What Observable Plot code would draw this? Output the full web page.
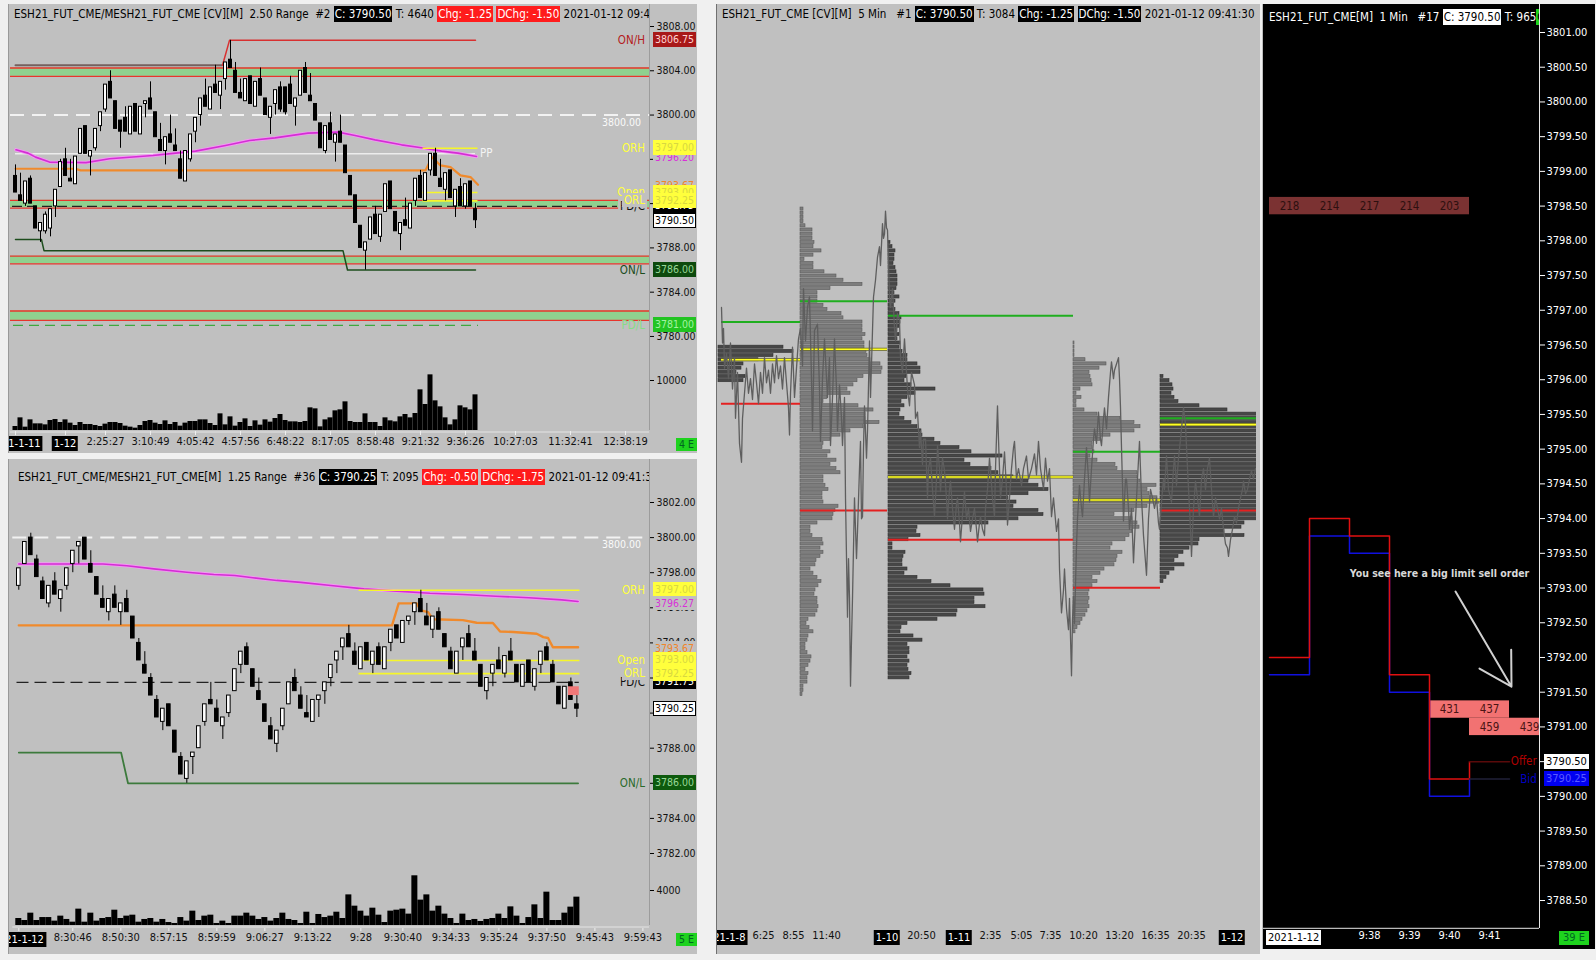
<!DOCTYPE html>
<html><head><meta charset="utf-8">
<script src="https://cdn.jsdelivr.net/npm/d3@7"></script>
<script src="https://cdn.jsdelivr.net/npm/@observablehq/plot@0.6"></script>
<style>
html,body{margin:0;padding:0;background:#f0f0f0;}
#page{position:relative;width:1596px;height:960px;overflow:hidden;background:#f0f0f0;}
.pnl{position:absolute;overflow:hidden;}
</style></head><body><div id="page"></div>
<script>
// ================= DATA =================
// ---- Panel A : ESH21/MESH21 2.50 Range ----
const aOpen  = [3794.5,3792.75,3792,3794.25,3791.75,3789.5,3789.5,3789.75,3791.75,3793.5,3796,3794.25,3793.75,3796.5,3799,3796.25,3797,3799,3800.5,3803,3801.25,3799.5,3799.75,3798.25,3801,3798.25,3801,3801.5,3800.25,3797.75,3796.75,3798.25,3797.25,3796,3794,3796,3798.5,3800,3801.75,3800.5,3802.75,3801.75,3803.25,3805,3804,3802,3801.25,3803.5,3800.75,3803.25,3801.5,3799.75,3801,3802.5,3802.5,3802.75,3800.75,3801.75,3804.25,3801.75,3801,3799.25,3796.75,3799.25,3797.5,3798.5,3797.25,3794.5,3792.75,3790,3787.75,3788.75,3791,3789,3791.25,3794,3791.25,3789.25,3790.5,3789.75,3792.25,3794.5,3792.25,3795,3796.5,3794.25,3793.25,3795,3791.75,3793.5,3791.75,3794,3791.5];
const aHigh  = [3795.5,3794.75,3794,3794.5,3791.75,3790.25,3791.25,3791.5,3793.25,3796,3797,3796,3796.25,3798.75,3799,3796.75,3798.75,3800.25,3802.75,3804,3801.25,3799.5,3800.75,3800.75,3801,3800.75,3801.25,3803,3800.25,3799.25,3798,3800,3798.75,3796.75,3796.75,3798.25,3799.75,3801.5,3803.25,3802.5,3804.5,3803,3804.75,3806.75,3804.75,3803.25,3803.25,3803.5,3803,3804.25,3801.5,3800.75,3802.25,3803,3802.5,3803.5,3801.5,3804,3804.75,3803.75,3801,3799.25,3799,3800.25,3798.25,3800,3797.25,3794.5,3792.75,3790,3788.5,3790.75,3791.75,3791,3793.75,3794,3791.25,3790.25,3792.5,3792,3794.25,3795,3794.75,3796.5,3797,3796,3794.75,3795,3793.25,3794.25,3793.75,3794,3792];
const aLow   = [3793,3792.25,3791.75,3792,3789.75,3788.5,3789.25,3789,3790.75,3793.5,3794.5,3794,3793.75,3796.5,3796.5,3794.5,3796.75,3798.5,3800.25,3801.5,3798.75,3797,3798.5,3798.25,3798.5,3798.25,3799.75,3800.5,3798,3796.75,3795.5,3797.5,3796.75,3794.25,3794,3795.75,3797.5,3799,3800.75,3800.5,3802,3800.5,3802.25,3804.25,3802,3801.5,3801.25,3801,3800.75,3801.75,3800,3798.25,3800,3800.25,3800,3801,3799,3801.75,3802,3801.25,3799.5,3797,3796.5,3797.75,3795.75,3797.5,3794.75,3792.75,3790.25,3788,3786,3788.75,3789.25,3788.5,3791.25,3791.5,3789.5,3787.75,3790,3789.75,3791.75,3792.5,3792.25,3794.5,3794.5,3793.5,3792.25,3792.5,3790.75,3791.75,3791.5,3791.75,3789.75];
const aClose = [3793,3792.25,3794,3792,3789.75,3790.25,3791,3791.5,3793.25,3795.75,3794.5,3794,3796.25,3798.75,3796.5,3796.75,3798.75,3800.25,3802.75,3801.5,3798.75,3798.5,3798.5,3800.75,3798.5,3800.75,3801.25,3800.5,3798,3796.75,3798,3797.5,3796.75,3794.25,3796.75,3798.25,3799.75,3801.5,3800.75,3802.5,3802,3803,3804.75,3804.25,3802,3801.5,3803.25,3801,3803,3801.75,3800,3800.75,3802.25,3800.5,3800.25,3801,3801.5,3804,3802,3801.25,3799.5,3797,3799,3797.75,3798.25,3797.5,3794.75,3792.75,3790.25,3788,3788.5,3790.75,3789.25,3791,3793.75,3791.5,3789.5,3790.25,3790,3792,3794.25,3792.5,3794.75,3796.5,3794.5,3793.5,3794.75,3792.5,3793.25,3791.75,3793.75,3791.75,3790.5];
const aVol   = [800,2530,670,2130,1330,1330,1130,2000,2200,1600,2130,1470,1000,1600,1200,1200,1000,800,1270,1600,1600,1400,870,670,470,1000,1800,2000,1470,1200,1930,1200,1600,870,1470,1800,1800,2130,2130,1400,1000,3330,1130,2730,870,1600,2330,800,1930,1070,2130,1670,2400,3200,2000,1730,1730,1600,1800,4530,4330,730,2130,2530,3930,4130,5730,1800,1600,1600,3330,1600,1600,800,2530,1930,1730,2730,3200,2530,3400,8130,5200,11130,5930,4730,2530,1130,2130,4930,4530,4130,7130];
const aVwapBar = [1.1,3.5,5,7.8,15.1,19.8,28.5,33,37,43,47.8,52.9,59.5,65.5,68.9,72.9,78.2,82.2,86.2,89.5,93.2];
const aVwapVal = [3796.86,3796.56,3796.2,3795.75,3795.7,3796.05,3796.35,3796.56,3796.74,3797.25,3797.7,3797.94,3798.37,3798.46,3798.16,3797.76,3797.31,3797.04,3796.74,3796.56,3796.26];
const aOrgBar = [1,13,14,83,84.3,86,88,90,92,93.5];
const aOrgVal = [3795.15,3795.15,3795,3795,3796.2,3795.45,3795.3,3794.55,3794.4,3793.7];
const aOnHBar = [1,42.4,43.8,93];
const aOnHVal = [3804.5,3804.5,3806.75,3806.75];
const aOnLBar = [1,6.2,6.7,66.5,67.4,93];
const aOnLVal = [3788.75,3788.75,3787.75,3787.75,3786,3786];
const aZoneLo = [3803.5,3791.6,3786.55,3781.45];
const aZoneHi = [3804.25,3792.3,3787.25,3782.3];
const aOR = [3797,3793,3792.25];       // ORH, Open, ORL
const aPDC = 3791.75, aPDL = 3781, aPP = 3796.5, aRound = 3800;
const aPriceTicks = [3808,3804,3800,3796,3792,3788,3784,3780];
const aTickBars = [1,11,19,28,37,46,55,64,73,82,91,101,112,123];
const aTickLabels = ["2021-1-11","1-12","2:25:27","3:10:49","4:05:42","4:57:56","6:48:22","8:17:05","8:58:48","9:21:32","9:36:26","10:27:03","11:32:41","12:38:19"];

// ---- Panel B : ESH21/MESH21 1.25 Range ----
const bOpen  = [3797.25,3798.5,3800,3798.75,3797.5,3796.25,3797.5,3796.5,3797.25,3798.5,3799.5,3800,3798.5,3797.75,3796.5,3795.75,3796.75,3795.75,3796.5,3795.5,3794,3792.75,3792,3790.75,3789.5,3790.5,3789,3787.5,3786.25,3787.5,3788,3789.5,3790.75,3790.25,3789.25,3790,3791.25,3792.75,3793.75,3792.5,3791.25,3790.5,3789.25,3788.25,3789.25,3790.5,3792,3791,3790,3789.5,3790.75,3791.25,3792,3793,3793.75,3794.5,3793.5,3792.5,3794,3792.75,3793.75,3792.5,3794,3795,3794,3795.25,3795.75,3796.5,3795.5,3794.75,3795.75,3794.5,3793.5,3792.25,3793.75,3794.5,3793.5,3792.75,3791.25,3792.25,3793,3792.25,3793.5,3792.75,3791.5,3793,3791.5,3792.75,3793.75,3792.75,3791.5,3790.25,3791.75,3790.5];
const bHigh  = [3798.25,3799.75,3800.25,3799,3797.75,3797.25,3798,3797,3798.25,3799.25,3799.75,3800,3799.25,3797.75,3797.25,3796.5,3797.25,3796.25,3797,3795.5,3794.25,3793.5,3792.25,3791,3790.25,3790.5,3789,3787.75,3787.25,3787.75,3789.25,3790.5,3791.75,3790.75,3789.75,3791,3792.5,3793.5,3794,3792.5,3792,3790.5,3789.75,3789,3790.25,3791.75,3792.5,3791.5,3791,3790.75,3791,3791.75,3792.75,3793.5,3794.25,3795,3794,3793.75,3794,3793.5,3794,3793.75,3794.75,3795,3795.25,3795.5,3796.25,3797,3796.25,3795.5,3796,3794.5,3793.75,3793.5,3794.25,3795,3794.25,3792.75,3792,3792.75,3793.75,3793.25,3794.25,3792.75,3792.75,3793,3792.5,3793.5,3794,3793,3791.5,3791.5,3792,3791];
const bLow   = [3797,3798.5,3799,3797.75,3796.5,3796,3796.75,3795.75,3797,3798,3798.5,3798.75,3798,3796.75,3796,3795.25,3796,3795,3795.75,3794.25,3793,3792.25,3791,3789.75,3789,3789.25,3787.75,3786.5,3786,3786.5,3788,3789.25,3790.5,3789.5,3788.5,3789.75,3791.25,3792.25,3792.75,3791.5,3790.75,3789.5,3788.5,3787.75,3789,3790.5,3791.25,3790.25,3789.75,3789.5,3789.75,3790.5,3791.5,3792.25,3793,3793.75,3792.75,3792.5,3793,3792.25,3792.75,3792.5,3793.5,3794.25,3794,3795,3795,3795.75,3795,3794.25,3794.75,3793.75,3792.5,3792.25,3793,3793.75,3793,3791.5,3790.75,3791.5,3792.5,3792,3793,3791.75,3791.5,3791.75,3791.25,3792.25,3793,3791.75,3790.5,3790.25,3790.75,3789.75];
const bClose = [3798.25,3799.75,3799,3797.75,3796.5,3797.25,3796.75,3797,3798.25,3799.25,3799.75,3798.75,3798,3796.75,3796,3796.5,3796,3796.25,3795.75,3794.25,3793,3792.25,3791,3789.75,3790.25,3789.25,3787.75,3786.5,3787.25,3787.75,3789.25,3790.5,3790.5,3789.5,3789.75,3791,3792.5,3793.5,3792.75,3791.5,3790.75,3789.5,3788.5,3789,3790.25,3791.75,3791.25,3790.25,3789.75,3790.75,3791,3791.75,3792.75,3793.5,3794.25,3793.75,3792.75,3793.75,3793,3793.5,3792.75,3793.75,3794.75,3794.25,3795.25,3795.5,3796.25,3795.75,3795,3795.5,3794.75,3793.75,3792.5,3793.5,3794.25,3793.75,3793,3791.5,3792,3792.75,3792.5,3793.25,3793,3791.75,3792.75,3791.75,3792.5,3793.5,3793,3791.75,3790.5,3791.5,3790.75,3790.25];
const bVol   = [800,570,1410,570,910,910,500,1070,690,380,1870,380,1410,500,800,910,1750,800,1070,1180,380,690,800,380,690,340,230,910,500,1640,570,1070,1180,230,500,230,1070,1070,1410,1070,690,910,500,800,1410,690,570,230,1520,230,1260,910,1070,1520,800,3500,2210,1640,1070,1980,1180,340,1640,1750,1870,1300,5680,2900,3500,1640,2210,1300,800,230,1300,570,690,460,690,800,1300,800,2130,1070,230,910,2360,800,3810,570,570,1410,2100,3240];
const bVwapBar = [1,15,19,23.5,29,33.5,37,40,44,48,53,58.5,64,69.5,75,80.5,86,91.5,94.2];
const bVwapVal = [3798.5,3798.5,3798.4,3798.22,3798.03,3797.9,3797.84,3797.71,3797.56,3797.45,3797.27,3797.08,3796.95,3796.83,3796.76,3796.66,3796.57,3796.45,3796.36];
const bOrgBar = [1,63.2,64.3,67.3,68,69.2,70,75,77.3,80,81.2,83.4,87.3,88.4,89.2,90,94.2];
const bOrgVal = [3795,3795,3796.25,3796.25,3795.85,3795.75,3795.35,3795.3,3795.15,3795.13,3794.65,3794.62,3794.52,3794.33,3794.28,3793.75,3793.75];
const bOnLBar = [1,18.05,19.2,94.2];
const bOnLVal = [3787.75,3787.75,3786,3786];
const bOR = [3797,3793,3792.25];
const bPDC = 3791.75, bRound = 3800;
const bMark = [93, 3791.0, 3791.5];     // highlighted last-trade cell (bar, lo, hi)
const bPriceTicks = [3802,3800,3798,3796,3794,3792,3790,3788,3786,3784,3782];
const bTickBars = [1,10,18,26,34,42,50,58,65,73,81,89,97,105];
const bTickLabels = ["2021-1-12","8:30:46","8:50:30","8:57:15","8:59:59","9:06:27","9:13:22","9:28","9:30:40","9:34:33","9:35:24","9:37:50","9:45:43","9:59:43"];

// ---- Panel C : ESH21 5 Min, volume profiles per session (rows of 0.5 pt, top -> bottom) ----
const cProfStart = [0,82,170,355,442];
const cProfTop   = [3805,3821.5,3817.5,3805.5,3801.5];
const cProf1 = [65,75,55,40,25,23,18,27,25];
const cProf2 = [3,3,3,3,5,12,12,12,14,13,21,13,4,13,13,24,36,43,62,30,17,17,17,23,27,41,43,62,62,62,65,62,64,64,66,67,70,80,82,81,63,57,53,47,50,27,23,58,73,65,65,79,63,50,40,30,23,22,30,27,36,30,36,40,23,23,25,28,22,22,23,38,35,33,32,17,10,10,12,22,23,20,23,20,16,15,10,13,17,21,18,15,14,17,17,18,17,15,8,6,9,13,8,7,5,5,7,11,10,8,5,8,7,7,3,3,2];
const cProf3 = [2,4,7,6,6,5,7,8,9,9,9,8,6,11,7,5,7,11,13,12,11,9,11,9,12,11,14,19,19,29,32,32,18,16,23,47,27,19,13,16,12,11,16,23,29,33,34,46,52,71,83,114,76,82,103,110,125,140,150,160,140,120,128,125,150,155,130,100,29,28,32,20,4,4,17,15,14,14,19,16,29,43,62,95,96,86,86,97,69,68,49,19,13,12,25,34,19,21,21,19,21,19,20,23,21];
const cProf4 = [1,1,1,1,12,33,26,16,17,18,19,7,3,8,3,3,11,24,47,61,67,61,37,27,19,19,21,17,24,42,44,64,64,67,83,74,76,84,86,74,61,41,59,64,66,59,56,52,39,37,49,44,43,41,31,27,19,24,19,16,15,16,15,16,14,12,9,7,4,2];
const cProf5 = [3,9,12,13,11,14,18,39,67,110,120,130,125,118,122,135,128,140,132,125,120,118,130,126,122,115,112,120,118,110,105,102,98,100,97,84,81,64,84,39,38,29,23,18,14,24,14,9,6,3];
const cVaStart = [3,82,170,355,442];
const cVaEnd   = [82,169,355,442,538];
const cVAH = [3808,3810.5,3808.75,3792.5,3796.5];
const cPOC = [3803.5,3804.75,3789.5,3786.75,3795.75];
const cVAL = [3798.25,3785.5,3782,3776.25,3785.5];
const cLineT = [3,4,5,6,8,10,12,14,16,17,19,21,23,24,26,28,30,32,34,36,38,40,42,44,46,48,50,52,54,56,58,60,62,64,66,68,70,71,72,74,76,78,80,82,84,85,87,89,91,93,94,96,99,101,102,104,106,109,111,112,114,116,118,119,121,123,124,126,127,129,130,131,132,133,134,136,138,139,141,142,143,144,145,146,148,149,151,152,154,155,157,159,161,162,164,165,166,167,168,169,171,172,174,176,177,179,181,182,184,186,187,189,191,193,196,197,199,201,202,204,205,207,209,210,212,214,216,218,219,221,222,224,226,228,229,231,232,234,236,238,239,241,242,244,246,248,250,252,254,256,258,259,261,262,264,266,267,269,271,272,274,276,277,279,280,282,284,286,288,289,291,293,295,296,298,300,303,305,308,310,313,316,318,320,322,325,327,329,331,333,335,338,340,341,343,345,346,348,350,351,353,354,355,356,358,359,361,363,364,366,368,370,371,373,375,376,378,380,382,383,385,386,388,390,392,393,395,396,398,400,401,402,403,405,407,408,410,411,413,415,417,419,421,423,425,428,430,432,434,436,438,440,441,443,445,446,448,450,453,455,456,458,460,462,464,465,467,469,471,472,473,475,477,479,481,483,485,487,489,491,493,495,497,499,501,503,505,507,509,510,512,514,516,518,520,522,524,525,527,529,531,533,535,537];
const cLineP = [3809.75,3805.5,3807.25,3802.5,3804.25,3801.25,3805.5,3800,3803.75,3796.5,3802,3793.5,3791.25,3796.5,3799.5,3802.5,3799.5,3801.25,3798.75,3803,3800.75,3798.25,3802,3799.5,3803.75,3800.75,3802.25,3799.5,3803,3800.75,3804,3801.25,3802.75,3800,3803.75,3800.75,3797.75,3794.5,3799.5,3805,3799,3802.5,3806,3807.25,3802.75,3812,3805.75,3809.75,3811,3801.25,3795,3807,3807.75,3800,3793.75,3801.25,3806,3799,3803.75,3793.25,3799,3806,3800,3795,3800.5,3796.5,3793.25,3799,3787,3772.75,3779.75,3775,3764.5,3770,3775,3787,3779.75,3783,3790.5,3793.75,3784.5,3784.75,3793,3798,3791.75,3795,3805.75,3799,3807,3811,3813,3815.75,3817,3814.75,3819.75,3818,3818.5,3821.25,3819.25,3819,3811,3809.75,3812,3807.25,3805.75,3809,3808.25,3803.75,3802,3806,3804,3800,3798,3802,3800.5,3796.5,3797.25,3793,3795,3791,3794,3794,3787,3790.5,3791.75,3788,3784.75,3789.25,3793.25,3790.5,3787.75,3791.75,3790.25,3787,3784.5,3788,3789,3785.75,3783.25,3786.25,3787,3784,3781.75,3785,3787.75,3784.5,3785.75,3783,3784.5,3785.75,3783.25,3781.75,3784,3784.75,3783.25,3782.5,3785.75,3788,3791.75,3790.25,3787,3784.75,3790.5,3798,3794,3787,3789.25,3792.5,3788,3783.75,3787,3790.5,3793,3793.75,3789.25,3790.5,3788.5,3790.5,3792,3789.25,3790.5,3792.25,3789.75,3793.75,3790.5,3788,3791.75,3789,3790.5,3784.75,3787,3783,3784.5,3778.5,3773.25,3776,3778.5,3773.75,3771.25,3775,3765.75,3772.5,3775.25,3772,3781.25,3784.5,3788.5,3785.75,3784.75,3789.25,3793,3789.25,3786.5,3790.5,3794,3795.25,3793.5,3797.25,3794,3793.25,3796.5,3797.75,3795.25,3799,3802,3803.25,3801.25,3802.25,3803,3803.75,3801.25,3797.75,3793,3784.25,3789.25,3789.25,3785.75,3783.25,3785.75,3779.25,3784.5,3789.25,3793.75,3787,3782.5,3777.75,3784.5,3788,3787,3785.75,3787,3784,3783.25,3786.5,3789.25,3788,3792,3788,3786.5,3790.5,3792,3788.5,3791.75,3794,3796.5,3797.75,3795.75,3790.5,3785.75,3783.25,3780,3785.75,3789,3787,3784.75,3789.25,3790.5,3788,3790.5,3791.75,3788,3784.75,3787,3785.75,3784.5,3785.75,3783.25,3781.5,3781,3780,3782,3783.25,3784.75,3784,3785.75,3787,3788,3789,3787.5,3788,3789.25,3790.25,3789.25,3790.5];
const cTickIdx = [5,45,75,108,169,203,241,272,303,332,365,401,437,473,514];
const cTickLabels = ["2021-1-8","6:25","8:55","11:40","1-10","20:50","1-11","2:35","5:05","7:35","10:20","13:20","16:35","20:35","1-12"];

// ---- Panel D : ESH21 1 Min, bid/offer and resting orders ----
const dMinute = [36,37,38,39,40,41,42];
const dOffer  = [3792,3794,3793.75,3791.75,3790.25,3790.5,3790.5];
const dBid    = [3791.75,3793.75,3793.5,3791.5,3790,3790.25,3790.25];
const dBigPrice = 3798.5;
const dBigMin  = [36,37,38,39,40];
const dBigSize = [218,214,217,214,203];
const dSellPrice = [3791.25,3791.25,3791,3791];
const dSellMin   = [40,41,41,42];
const dSellSize  = [431,437,459,439];
const dNote = "You see here a big limit sell order";
const dPriceTicks = [3801,3800.5,3800,3799.5,3799,3798.5,3798,3797.5,3797,3796.5,3796,3795.5,3795,3794.5,3794,3793.5,3793,3792.5,3792,3791.5,3791,3790.5,3790,3789.5,3789,3788.5];
const dTickMin = [38.5,39.5,40.5,41.5];
const dTickLabels = ["9:38","9:39","9:40","9:41"];

// ================= HELPERS =================
const FONT = '"Liberation Sans Narrow","Arial Narrow","DejaVu Sans Condensed",sans-serif';
const AX = 10.5;   // axis font size
const page = document.getElementById("page");
function panel(left, top, w, h, bg, extra) {
  const d = document.createElement("div");
  d.className = "pnl";
  Object.assign(d.style, {left: left + "px", top: top + "px", width: w + "px", height: h + "px", background: bg}, extra || {});
  page.appendChild(d);
  return d;
}
function place(parent, svg, top) {
  svg.style.position = "absolute";
  svg.style.left = "0px";
  svg.style.top = top + "px";
  svg.style.background = "transparent";
  svg.style.maxWidth = "none";
  parent.appendChild(svg);
  return svg;
}
function lbl(parent, o) {
  const d = document.createElement("div");
  d.textContent = o.text;
  const h = o.h || 14, s = d.style;
  Object.assign(s, {position: "absolute", whiteSpace: "pre", fontFamily: FONT, fontSize: (o.size || AX) + "px",
    lineHeight: h + "px", height: h + "px", top: (o.y - h / 2) + "px", left: o.x + "px", color: o.color || "#000",
    padding: `0 ${o.pad == null ? 2 : o.pad}px`});
  if (o.bg) s.background = o.bg;
  if (o.border) s.boxShadow = `inset 0 0 0 1px ${o.border}`;
  if (o.bold) s.fontWeight = "bold";
  s.transform = o.anchor === "end" ? "translateX(-100%)" : o.anchor === "middle" ? "translateX(-50%)" : "none";
  parent.appendChild(d);
  return d;
}
function header(parent, x, y, w, parts, color) {
  const row = document.createElement("div");
  Object.assign(row.style, {position: "absolute", left: x + "px", top: (y - 8) + "px", height: "16px", width: w + "px",
    overflow: "hidden", whiteSpace: "pre", fontFamily: FONT, fontSize: "11.5px", lineHeight: "16px", color: color || "#000"});
  for (const p of parts) {
    const s = document.createElement("span");
    s.textContent = p.t;
    if (p.bg) { s.style.background = p.bg; s.style.color = p.c; s.style.padding = "1px 1px"; }
    row.appendChild(s);
  }
  parent.appendChild(row);
}
const baseStyle = {background: "transparent", fontFamily: FONT, fontSize: "11px", overflow: "visible"};
const pts = (xs, ys) => xs.map((x, i) => ({x, y: ys[i]}));

// ================= PANEL A =================
{
  const P = panel(8, 4, 688, 449, "#c0c0c0", {borderLeft: "1px solid #9a9a9a"});
  const X = {domain: [0, 127.8], range: [1, 640]};
  const candles = aOpen.map((o, i) => ({i: i + 1, o, h: aHigh[i], l: aLow[i], c: aClose[i]}));
  const zones = aZoneLo.map((lo, i) => ({lo, hi: aZoneHi[i]}));
  const x0 = () => 0, x1 = () => 127.8;
  const price = Plot.plot({
    width: 688, height: 356, marginTop: 0, marginLeft: 0, marginRight: 48, marginBottom: 0,
    x: {...X, axis: null}, y: {domain: [3778, 3810], range: [354.1, -0.14], axis: null},
    style: baseStyle,
    marks: [
      Plot.rect(zones, {x1: x0, x2: x1, y1: "lo", y2: "hi", fill: "#8fd18f"}),
      Plot.ruleY(zones, {y: "lo", x1: x0, x2: x1, stroke: "#e8342c", strokeWidth: 1.3}),
      Plot.ruleY(zones, {y: "hi", x1: x0, x2: x1, stroke: "#e8342c", strokeWidth: 1.3}),
      Plot.ruleY([aRound], {x1: x0, x2: x1, stroke: "#f2f2f2", strokeWidth: 2, strokeDasharray: "14,8"}),
      Plot.ruleY([aPDC], {x1: () => 0.4, x2: () => 121.4, stroke: "#222", strokeWidth: 1.3, strokeDasharray: "10,5"}),
      Plot.ruleY([aPDL], {x1: () => 0.6, x2: () => 93.6, stroke: "#3fa83f", strokeWidth: 1.3, strokeDasharray: "10,6"}),
      Plot.ruleY([aPP], {x1: () => 1, x2: () => 93, stroke: "#ececec", strokeWidth: 1.5}),
      Plot.line(pts(aOnHBar.slice(0, 2), aOnHVal.slice(0, 2)), {x: "x", y: "y", stroke: "#76605e", strokeWidth: 2}),
      Plot.line(pts(aOnHBar.slice(1), aOnHVal.slice(1)), {x: "x", y: "y", stroke: "#d83030", strokeWidth: 1.5}),
      Plot.line(pts(aOnLBar, aOnLVal), {x: "x", y: "y", stroke: "#1d4d1d", strokeWidth: 1.5}),
      Plot.line(pts(aOrgBar, aOrgVal), {x: "x", y: "y", stroke: "#f08a2c", strokeWidth: 2.2}),
      Plot.line(pts(aVwapBar, aVwapVal), {x: "x", y: "y", stroke: "#f29af2", strokeWidth: 3.4}),
      Plot.line(pts(aVwapBar, aVwapVal), {x: "x", y: "y", stroke: "#d42ed4", strokeWidth: 1.6}),
      Plot.ruleY(aOR, {x1: () => 82.5, x2: () => 93.5, stroke: "#f6f62a", strokeWidth: 1.6}),
      Plot.ruleX(candles, {x: "i", y1: "l", y2: "h", stroke: "#000", strokeWidth: 1}),
      Plot.rect(candles.filter(d => d.c >= d.o), {x1: d => d.i - 0.3, x2: d => d.i + 0.3, y1: "o", y2: "c", fill: "#fff", stroke: "#000", strokeWidth: 1}),
      Plot.rect(candles.filter(d => d.c < d.o), {x1: d => d.i - 0.3, x2: d => d.i + 0.3, y1: "o", y2: "c", fill: "#000", stroke: "#000", strokeWidth: 1}),
      Plot.ruleX([127.8], {stroke: "#9c9c9c"}),
      Plot.axisY({anchor: "right", label: null, ticks: aPriceTicks, tickFormat: d => d.toFixed(2), tickSize: 4, tickPadding: 3, fill: "#111", fontSize: AX})
    ]
  });
  place(P, price, 0);
  const vol = Plot.plot({
    width: 688, height: 98, marginTop: 0, marginLeft: 0, marginRight: 48, marginBottom: 22,
    x: {...X}, y: {domain: [0, 15000], range: [75, 0], axis: null},
    style: baseStyle,
    marks: [
      Plot.rectY(aVol.map((v, i) => ({i: i + 1, v})), {x1: d => d.i - 0.5, x2: d => d.i + 0.5, y: "v", fill: "#000"}),
      Plot.ruleY([0], {x1: x0, x2: x1, stroke: "#e4e4e4", dy: 1.5}),
      Plot.ruleX([127.8], {y1: 0, y2: 15000, stroke: "#9c9c9c"}),
      Plot.axisY({anchor: "right", label: null, ticks: [10000], tickFormat: d => String(d), tickSize: 4, tickPadding: 3, fill: "#111", fontSize: AX}),
      Plot.axisX({label: null, ticks: aTickBars, tickFormat: (d, i) => aTickLabels[i].includes("-") ? "" : aTickLabels[i], tickSize: 4, tickPadding: 2, stroke: "#eee", fill: "#111", fontSize: 11})
    ]
  });
  place(P, vol, 351);
  const Y = v => price.scale("y").apply(v), XS = v => price.scale("x").apply(v);
  aTickBars.forEach((b, i) => { if (aTickLabels[i].includes("-")) lbl(P, {x: XS(b), y: 439, text: aTickLabels[i], bg: "#000", color: "#fff", anchor: "middle", h: 15, size: 11}); });
  lbl(P, {x: 667, y: 440, text: "4 E", bg: "#1ed21e", color: "#062", pad: 3, h: 13});
  // right side price labels
  lbl(P, {x: 638, y: Y(3806.75), text: "ON/H", color: "#b42020", anchor: "end", size: 11.5});
  lbl(P, {x: 644, y: Y(3806.75), text: "3806.75", bg: "#a81818", color: "#ffd2d2", h: 15});
  lbl(P, {x: 634, y: Y(aRound) + 7, text: "3800.00", color: "#fafafa", anchor: "end"});
  lbl(P, {x: 644, y: Y(3796.2), text: "3796.20", color: "#d830d8", bg: "#c0c0c0"});
  lbl(P, {x: 638, y: Y(aOR[0]), text: "ORH", color: "#ffff40", anchor: "end", size: 11.5});
  lbl(P, {x: 644, y: Y(aOR[0]), text: "3797.00", bg: "#ffff3c", color: "#d8d840", h: 15});
  lbl(P, {x: 644, y: Y(3793.67), text: "3793.67", color: "#f0852a", bg: "#c0c0c0"});
  lbl(P, {x: 638, y: Y(aPDC), text: "PD/C", color: "#111", anchor: "end", bg: "#c0c0c0", size: 11.5});
  lbl(P, {x: 644, y: Y(aPDC), text: "3791.75", bg: "#000", color: "#fff", h: 15});
  lbl(P, {x: 638, y: Y(aOR[1]), text: "Open", color: "#ffff40", anchor: "end", bg: "#c0c0c0", size: 11.5});
  lbl(P, {x: 644, y: Y(aOR[1]), text: "3793.00", bg: "#ffff3c", color: "#d8d840", h: 15});
  lbl(P, {x: 638, y: Y(aOR[2]), text: "ORL", color: "#ffff40", anchor: "end", bg: "#c0c0c0", size: 11.5});
  lbl(P, {x: 644, y: Y(aOR[2]), text: "3792.25", bg: "#ffff3c", color: "#d8d840", h: 15});
  lbl(P, {x: 644, y: Y(3790.5) + 1, text: "3790.50", bg: "#fff", color: "#000", border: "#000", h: 15});
  lbl(P, {x: 638, y: Y(3786), text: "ON/L", color: "#1d4d1d", anchor: "end", size: 11.5});
  lbl(P, {x: 644, y: Y(3786), text: "3786.00", bg: "#0d4a0d", color: "#98d898", h: 15});
  lbl(P, {x: 638, y: Y(aPDL), text: "PD/L", color: "#86dc86", anchor: "end", size: 11.5});
  lbl(P, {x: 644, y: Y(aPDL), text: "3781.00", bg: "#22c422", color: "#a2f2a2", h: 15});
  lbl(P, {x: 469, y: Y(aPP), text: "PP", color: "#f4f4f4", size: 11.5});
  header(P, 5, 10, 635, [
    {t: "ESH21_FUT_CME/MESH21_FUT_CME [CV][M]  2.50 Range  #2 "}, {t: "C: 3790.50", bg: "#000", c: "#fff"}, {t: " T: 4640 "},
    {t: "Chg: -1.25", bg: "#ff1c1c", c: "#fff"}, {t: " "}, {t: "DChg: -1.50", bg: "#ff1c1c", c: "#fff"}, {t: " 2021-01-12 09:41:30 H: 3797.00"}]);
}

// ================= PANEL B =================
{
  const P = panel(8, 459, 688, 495, "#c0c0c0", {borderLeft: "1px solid #9a9a9a"});
  const X = {domain: [0, 106.1], range: [3.3, 640]};
  const candles = bOpen.map((o, i) => ({i: i + 1, o, h: bHigh[i], l: bLow[i], c: bClose[i]}));
  const x0 = () => 0, x1 = () => 106.1;
  const price = Plot.plot({
    width: 688, height: 412, marginTop: 0, marginLeft: 0, marginRight: 48, marginBottom: 0,
    x: {...X, axis: null}, y: {domain: [3781, 3804.5], range: [411.55, -0.875], axis: null},
    style: baseStyle,
    marks: [
      Plot.ruleY([bRound], {x1: x0, x2: x1, stroke: "#f2f2f2", strokeWidth: 2, strokeDasharray: "14,8"}),
      Plot.ruleY([bPDC], {x1: () => 0.7, x2: () => 94.4, stroke: "#222", strokeWidth: 1.3, strokeDasharray: "12,6"}),
      Plot.line(pts(bOnLBar, bOnLVal), {x: "x", y: "y", stroke: "#3c7a3c", strokeWidth: 1.8}),
      Plot.line(pts(bOrgBar, bOrgVal), {x: "x", y: "y", stroke: "#f08a2c", strokeWidth: 2.4}),
      Plot.line(pts(bVwapBar, bVwapVal), {x: "x", y: "y", stroke: "#f29af2", strokeWidth: 3.4}),
      Plot.line(pts(bVwapBar, bVwapVal), {x: "x", y: "y", stroke: "#d42ed4", strokeWidth: 1.6}),
      Plot.ruleY(bOR, {x1: () => 57.7, x2: () => 94.5, stroke: "#f6f62a", strokeWidth: 1.6}),
      Plot.ruleX(candles, {x: "i", y1: "l", y2: "h", stroke: "#000", strokeWidth: 1}),
      Plot.rect(candles.filter(d => d.c >= d.o), {x1: d => d.i - 0.3, x2: d => d.i + 0.3, y1: "o", y2: "c", fill: "#fff", stroke: "#000", strokeWidth: 1}),
      Plot.rect(candles.filter(d => d.c < d.o), {x1: d => d.i - 0.3, x2: d => d.i + 0.3, y1: "o", y2: "c", fill: "#000", stroke: "#000", strokeWidth: 1}),
      Plot.rect([bMark], {x1: d => d[0] - 0.4, x2: d => d[0] + 1.4, y1: d => d[1], y2: d => d[2], fill: "#f07878"}),
      Plot.ruleX([106.1], {stroke: "#9c9c9c"}),
      Plot.axisY({anchor: "right", label: null, ticks: bPriceTicks, tickFormat: d => d.toFixed(2), tickSize: 4, tickPadding: 3, fill: "#111", fontSize: AX})
    ]
  });
  place(P, price, 0);
  const vol = Plot.plot({
    width: 688, height: 98, marginTop: 0, marginLeft: 0, marginRight: 48, marginBottom: 25,
    x: {...X}, y: {domain: [0, 8000], range: [70, 0], axis: null},
    style: baseStyle,
    marks: [
      Plot.rectY(bVol.map((v, i) => ({i: i + 1, v})), {x1: d => d.i - 0.5, x2: d => d.i + 0.5, y: "v", fill: "#000"}),
      Plot.ruleY([0], {x1: x0, x2: x1, stroke: "#e4e4e4", dy: 1.5}),
      Plot.ruleX([106.1], {y1: 0, y2: 8000, stroke: "#9c9c9c"}),
      Plot.axisY({anchor: "right", label: null, ticks: [4000], tickFormat: d => String(d), tickSize: 4, tickPadding: 3, fill: "#111", fontSize: AX}),
      Plot.axisX({label: null, ticks: bTickBars, tickFormat: (d, i) => bTickLabels[i].includes("-") ? "" : bTickLabels[i], tickSize: 3, tickPadding: 2, stroke: "#eee", fill: "#111", fontSize: 11})
    ]
  });
  place(P, vol, 396);
  const Y = v => price.scale("y").apply(v), XS = v => price.scale("x").apply(v);
  bTickBars.forEach((b, i) => { if (bTickLabels[i].includes("-")) lbl(P, {x: XS(b), y: 480, text: bTickLabels[i], bg: "#000", color: "#fff", anchor: "middle", h: 15, size: 11}); });
  lbl(P, {x: 667, y: 480, text: "5 E", bg: "#1ed21e", color: "#062", pad: 3, h: 13});
  lbl(P, {x: 634, y: Y(bRound) + 7, text: "3800.00", color: "#fafafa", anchor: "end"});
  lbl(P, {x: 638, y: Y(bOR[0]), text: "ORH", color: "#ffff40", anchor: "end", size: 11.5});
  lbl(P, {x: 644, y: Y(bOR[0]), text: "3797.00", bg: "#ffff3c", color: "#d8d840", h: 15});
  lbl(P, {x: 644, y: Y(3796.27), text: "3796.27", color: "#d830d8", bg: "#c0c0c0"});
  lbl(P, {x: 644, y: Y(3793.67), text: "3793.67", color: "#f0852a", bg: "#c0c0c0"});
  lbl(P, {x: 638, y: Y(bPDC), text: "PD/C", color: "#111", anchor: "end", bg: "#c0c0c0", size: 11.5});
  lbl(P, {x: 644, y: Y(bPDC), text: "3791.75", bg: "#000", color: "#fff", h: 15});
  lbl(P, {x: 638, y: Y(bOR[1]), text: "Open", color: "#ffff40", anchor: "end", bg: "#c0c0c0", size: 11.5});
  lbl(P, {x: 644, y: Y(bOR[1]), text: "3793.00", bg: "#ffff3c", color: "#d8d840", h: 15});
  lbl(P, {x: 638, y: Y(bOR[2]), text: "ORL", color: "#ffff40", anchor: "end", bg: "#c0c0c0", size: 11.5});
  lbl(P, {x: 644, y: Y(bOR[2]), text: "3792.25", bg: "#ffff3c", color: "#d8d840", h: 15});
  lbl(P, {x: 644, y: Y(3790.25), text: "3790.25", bg: "#fff", color: "#000", border: "#000", h: 15});
  lbl(P, {x: 638, y: Y(3786), text: "ON/L", color: "#2a6a2a", anchor: "end", size: 11.5});
  lbl(P, {x: 644, y: Y(3786), text: "3786.00", bg: "#0d5a0d", color: "#98d898", h: 15});
  header(P, 9, 18, 631, [
    {t: "ESH21_FUT_CME/MESH21_FUT_CME[M]  1.25 Range  #36 "}, {t: "C: 3790.25", bg: "#000", c: "#fff"}, {t: " T: 2095 "},
    {t: "Chg: -0.50", bg: "#ff1c1c", c: "#fff"}, {t: " "}, {t: "DChg: -1.75", bg: "#ff1c1c", c: "#fff"}, {t: " 2021-01-12 09:41:30 H: 3797.00"}]);
}

// ================= PANEL C =================
{
  const P = panel(716, 4, 543, 950, "#c0c0c0", {borderLeft: "1px solid #707070"});
  const profs = [cProf1, cProf2, cProf3, cProf4, cProf5];
  const rows = profs.map((vols, k) => vols.map((v, j) => ({p: cProfTop[k] - j * 0.5, v, s: cProfStart[k]})));
  const dark = rows[0].concat(rows[2], rows[4]);
  const light = rows[1].concat(rows[3]);
  const sess = cVaStart.map((s, i) => ({s, e: cVaEnd[i], vah: cVAH[i], poc: cPOC[i], val: cVAL[i]}));
  const line = cLineT.map((t, i) => ({t, p: cLineP[i]}));
  const rowMark = (data, fill, stroke) => Plot.rect(data, {x1: "s", x2: d => d.s + d.v, y1: d => d.p - 0.25, y2: d => d.p + 0.25, insetTop: 0.55, insetBottom: 0.55, fill, stroke, strokeWidth: 0.6, clip: true});
  const svg = Plot.plot({
    width: 543, height: 950, marginTop: 0, marginLeft: 0, marginRight: 4, marginBottom: 26,
    x: {domain: [-1, 542], range: [0, 543]}, y: {domain: [3740, 3845], range: [886.8, 7.85], axis: null},
    style: baseStyle,
    marks: [
      rowMark(dark, "#474747", "#333"),
      rowMark(light, "#7d7d7d", "#5a5a5a"),
      Plot.ruleY(sess, {y: "vah", x1: "s", x2: "e", stroke: "#1fae1f", strokeWidth: 2}),
      Plot.ruleY(sess, {y: "val", x1: "s", x2: "e", stroke: "#e42020", strokeWidth: 2}),
      Plot.ruleY(sess, {y: "poc", x1: "s", x2: "e", stroke: "#6a6a20", strokeWidth: 3}),
      Plot.ruleY(sess, {y: "poc", x1: "s", x2: "e", stroke: "#ffff22", strokeWidth: 1.6}),
      Plot.line(line, {x: "t", y: "p", stroke: "#5e5e5e", strokeWidth: 1.3, clip: true}),
      Plot.axisX({label: null, ticks: cTickIdx, tickFormat: (d, i) => cTickLabels[i].includes("-") ? "" : cTickLabels[i], tickSize: 0, tickPadding: 3, fill: "#111", fontSize: 11})
    ]
  });
  place(P, svg, 0);
  const XS = v => svg.scale("x").apply(v);
  cTickIdx.forEach((b, i) => { if (cTickLabels[i].includes("-")) lbl(P, {x: XS(b), y: 933, text: cTickLabels[i], bg: "#000", color: "#fff", anchor: "middle", h: 15, size: 11}); });
  header(P, 5, 9.5, 535, [
    {t: "ESH21_FUT_CME [CV][M]  5 Min   #1 "}, {t: "C: 3790.50", bg: "#000", c: "#fff"}, {t: " T: 3084 "},
    {t: "Chg: -1.25", bg: "#000", c: "#fff"}, {t: " "}, {t: "DChg: -1.50", bg: "#000", c: "#fff"}, {t: " 2021-01-12 09:41:30 H: 3797.00"}]);
}

// ================= PANEL D =================
{
  const P = panel(1262, 4, 332, 945, "#000", {borderLeft: "1px solid #bdbdbd"});
  const big = dBigMin.map((m, i) => ({m, p: dBigPrice, s: dBigSize[i]}));
  const sell = dSellMin.map((m, i) => ({m, p: dSellPrice[i], s: dSellSize[i]}));
  const off = pts(dMinute, dOffer), bid = pts(dMinute, dBid);
  const cell = (data, fill) => Plot.rect(data, {x1: "m", x2: d => d.m + 1, y1: d => d.p - 0.125, y2: d => d.p + 0.125, fill, clip: true});
  const svg = Plot.plot({
    width: 332, height: 945, marginTop: 0, marginLeft: 0, marginRight: 56, marginBottom: 21,
    x: {domain: [35.925, 42.75], range: [3, 276]}, y: {domain: [3788.1, 3801.4], range: [923.8, 0.22]},
    style: {...baseStyle, color: "#fff"},
    marks: [
      cell(big, "#7b3232"),
      cell(sell, "#f27272"),
      Plot.text(big, {x: d => d.m + 0.5, y: "p", text: "s", fill: "#2e1010", fontSize: 11.5}),
      Plot.text(sell, {x: d => d.m + 0.5, y: "p", text: "s", fill: "#4a1414", fontSize: 11.5, clip: true}),
      Plot.line(bid.slice(0, 6), {x: "x", y: "y", curve: "step-after", stroke: "#1010e0", strokeWidth: 1.5}),
      Plot.line(off.slice(0, 6), {x: "x", y: "y", curve: "step-after", stroke: "#e01010", strokeWidth: 1.5}),
      Plot.line(bid.slice(5), {x: "x", y: "y", curve: "step-after", stroke: "#202038", strokeWidth: 1.5}),
      Plot.line(off.slice(5), {x: "x", y: "y", curve: "step-after", stroke: "#5a0a0a", strokeWidth: 1.5}),
      Plot.text(["Offer"], {x: () => 42.68, y: () => dOffer[5], text: d => d, fill: "#b00000", textAnchor: "end", fontSize: 11.5}),
      Plot.text(["Bid"], {x: () => 42.68, y: () => dBid[5], text: d => d, fill: "#0000c0", textAnchor: "end", fontSize: 11.5}),
      Plot.text([dNote], {x: () => 40.25, y: () => 3793.21, text: d => d, fill: "#d8d8d8", fontWeight: "bold", fontSize: 10.5}),
      Plot.arrow([0], {x1: () => 40.65, y1: () => 3792.95, x2: () => 42.05, y2: () => 3791.58, stroke: "#d0d0d0", strokeWidth: 2, headLength: 35, headAngle: 60}),
      Plot.ruleX([42.75], {stroke: "#e8e8e8"}),
      Plot.ruleY([3788.1], {stroke: "#e8e8e8"}),
      Plot.axisY({anchor: "right", label: null, ticks: dPriceTicks, tickFormat: d => d.toFixed(2), tickSize: 5, tickPadding: 2, fill: "#fff", stroke: "#fff", fontSize: 11}),
      Plot.axisX({label: null, ticks: dTickMin, tickFormat: (d, i) => dTickLabels[i], tickSize: 0, tickPadding: 3, fill: "#fff", fontSize: 11})
    ]
  });
  place(P, svg, 0);
  const Y = v => svg.scale("y").apply(v);
  lbl(P, {x: 281, y: Y(3790.5), text: "3790.50", bg: "#fff", color: "#000", h: 15, size: 11});
  lbl(P, {x: 281, y: Y(3790.25), text: "3790.25", bg: "#0000f0", color: "#5a5aff", h: 15, size: 11});
  lbl(P, {x: 3, y: 933, text: "2021-1-12", bg: "#fff", color: "#000", h: 15, size: 11});
  lbl(P, {x: 296, y: 934, text: "39 E", bg: "#1ed21e", color: "#062", pad: 4, h: 14, size: 11});
  header(P, 6, 12.5, 270, [
    {t: "ESH21_FUT_CME[M]  1 Min   #17 "}, {t: "C: 3790.50", bg: "#fff", c: "#000"}, {t: " T: 965"}, {t: "C: 3790.50", bg: "#1ed21e", c: "#000"}], "#fff");
}
</script></body></html>
